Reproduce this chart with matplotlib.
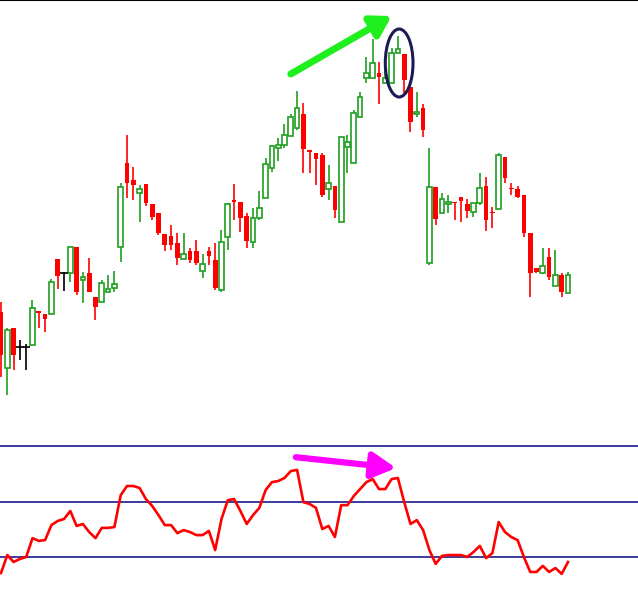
import matplotlib
matplotlib.use("Agg")
import matplotlib.pyplot as plt
from matplotlib.patches import Ellipse
import numpy as np

# OHLC values (arbitrary price units, axis is hidden)
opens = [138, 82, 122, 103, 103, 105, 139, 136, 136, 191,
         177, 177, 203, 170, 177, 153, 148, 158, 162, 203,
         287, 270, 257, 266, 246, 237, 216, 214, 207, 191,
         199, 199, 179, 199, 190, 160, 213, 250, 248, 234,
         208, 232, 252, 282, 302, 305, 314, 322, 336, 300,
         297, 295, 261, 264, 228, 303, 287, 333, 372, 372,
         377, 367, 367, 397, 396, 363, 336, 342, 187, 263,
         237, 246, 248, 253, 246, 238, 247, 264, 238, 241,
         293, 262, 261, 255, 217, 182, 177, 193, 164, 175,
         157]
highs = [148, 122, 122, 110, 106, 150, 139, 136, 171, 191,
         178, 203, 203, 178, 192, 153, 170, 175, 179, 267,
         315, 283, 265, 266, 246, 237, 216, 225, 217, 217,
         202, 210, 196, 203, 207, 220, 247, 266, 248, 237,
         242, 259, 292, 305, 312, 326, 336, 359, 347, 300,
         297, 297, 285, 264, 313, 315, 340, 358, 393, 411,
         388, 380, 402, 414, 396, 363, 358, 346, 302, 263,
         257, 255, 248, 253, 251, 247, 277, 273, 243, 297,
         293, 267, 264, 255, 217, 182, 202, 202, 200, 177,
         178]
lows = [73, 55, 80, 90, 80, 105, 122, 118, 136, 161,
        159, 168, 155, 147, 158, 130, 148, 158, 158, 188,
        252, 250, 228, 244, 230, 215, 199, 200, 185, 191,
        187, 185, 172, 185, 160, 158, 200, 230, 218, 202,
        202, 230, 252, 278, 289, 302, 314, 320, 277, 277,
        265, 253, 250, 232, 228, 277, 287, 333, 367, 372,
        346, 367, 367, 397, 357, 318, 333, 313, 185, 225,
        237, 237, 230, 228, 232, 233, 245, 219, 222, 241,
        267, 255, 252, 213, 153, 177, 176, 170, 164, 153,
        157]
closes = [95, 120, 95, 103, 103, 142, 137, 131, 168, 174,
          177, 203, 158, 173, 158, 143, 167, 161, 166, 263,
          267, 265, 261, 247, 233, 217, 205, 205, 192, 196,
          190, 187, 186, 194, 162, 208, 246, 248, 232, 209,
          232, 242, 286, 304, 305, 315, 333, 342, 301, 298,
          291, 255, 267, 240, 313, 308, 337, 353, 377, 387,
          373, 372, 397, 401, 370, 328, 338, 320, 263, 231,
          251, 248, 247, 249, 239, 247, 262, 230, 237, 295,
          272, 261, 253, 217, 177, 178, 184, 173, 175, 158,
          175]

# RSI-style oscillator
rsi = [24.2, 30.7, 28.2, 29.3, 30.0, 36.8, 35.8, 36.1, 41.5, 43.0,
       43.7, 46.6, 41.2, 41.9, 39.0, 36.8, 40.5, 40.5, 40.8, 52.3,
       55.6, 55.6, 54.9, 50.9, 48.4, 45.1, 41.5, 41.5, 38.6, 39.7,
       39.0, 37.9, 37.9, 39.4, 32.5, 43.7, 50.5, 50.9, 46.6, 41.9,
       45.1, 47.7, 54.1, 57.0, 57.4, 58.5, 61.0, 61.4, 49.8, 49.1,
       47.7, 40.1, 41.2, 37.2, 48.7, 48.7, 52.0, 54.5, 57.0, 58.1,
       54.5, 54.5, 58.1, 58.5, 49.8, 41.9, 43.3, 39.7, 32.5, 27.5,
       30.4, 30.7, 30.7, 30.7, 30.0, 31.8, 34.0, 29.6, 31.4, 42.6,
       39.0, 37.2, 36.1, 30.0, 24.6, 24.6, 26.8, 24.6, 26.0, 23.9,
       28.2]
rsi_levels = [70, 50, 30]

green = '#1e9e1e'
red = '#ff0000'
navy = '#2b2b95'

fig = plt.figure(figsize=(6.38, 6.08), dpi=100)
ax = fig.add_axes([0, 1 - 440 / 608, 1, 440 / 608])
ax2 = fig.add_axes([0, 0, 1, 168 / 608])

x = np.arange(len(opens))
o = np.array(opens, dtype=float)
h = np.array(highs, dtype=float)
l = np.array(lows, dtype=float)
c = np.array(closes, dtype=float)

up = c > o
down = c < o
flat = c == o
w = 0.75

# wicks
ax.vlines(x[up], l[up], h[up], color=green, lw=1.2, zorder=1)
ax.vlines(x[down], l[down], h[down], color=red, lw=1.2, zorder=1)
ax.vlines(x[flat], l[flat], h[flat], color='black', lw=1.2, zorder=1)

# bodies
ax.bar(x[up], c[up] - o[up], bottom=o[up], width=w, facecolor='white',
       edgecolor=green, lw=1.2, zorder=2)
ax.bar(x[down], o[down] - c[down], bottom=c[down], width=w, color=red,
       lw=0, zorder=2)
ax.hlines(o[flat], x[flat] - w / 2 - 0.2, x[flat] + w / 2 + 0.2, color='black',
          lw=1.2, zorder=2)

xl = (-1 / 6.3, 637 / 6.3)
ax.set_xlim(*xl)
ax.set_ylim(10, 450)
ax.axis('off')
ax.axhline(450, color='black', lw=1.5)

# annotations
ax.annotate('', xy=(62.0, 434), xytext=(46, 376),
            arrowprops=dict(arrowstyle='-|>,head_length=0.9,head_width=0.55',
                            lw=5, color='#1ef01e', mutation_scale=13, shrinkA=0, shrinkB=0))
ax.add_patch(Ellipse((63.2, 387), 4.4, 68, fill=False, edgecolor='#1c1c55', lw=2.2, zorder=5))

# oscillator panel
for lev in rsi_levels:
    ax2.axhline(lev, color=navy, lw=1.3)
ax2.plot(x, rsi, color=red, lw=1.9)
ax2.annotate('', xy=(62.7, 62.1), xytext=(46.8, 66.0),
             arrowprops=dict(arrowstyle='-|>,head_length=1.1,head_width=0.6',
                             lw=4.5, color='#ff00ff', mutation_scale=13, shrinkA=0, shrinkB=0))
ax2.set_xlim(*xl)
ax2.set_ylim(11.6, 72.2)
ax2.axis('off')

fig.savefig('out.png', dpi=100, facecolor='white')
